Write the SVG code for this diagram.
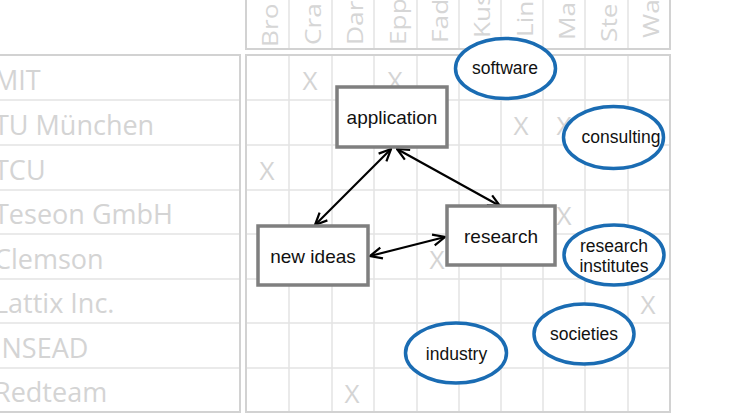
<svg xmlns="http://www.w3.org/2000/svg" width="748" height="413" viewBox="0 0 748 413">
<defs>
<style>
.bg{fill:#fff}
.outer{fill:none;stroke:#d2d2d2;stroke-width:2}
.inner{stroke:#e4e4e4;stroke-width:1.5;fill:none}
.lbl{font-family:"Open Sans","DejaVu Sans",sans-serif;font-size:27px;fill:#d4d4d4}
.hdr{font-family:"Open Sans","DejaVu Sans",sans-serif;font-size:21px;fill:#d6d6d6}
.x{font-family:"Open Sans","Liberation Sans",sans-serif;font-size:26px;fill:#d4d4d4;text-anchor:middle}
.box{fill:#fff;stroke:#7f7f7f;stroke-width:3.5}
.ell{fill:#fff;stroke:#1a6cb3;stroke-width:3.5}
.bt{font-family:"Liberation Sans",Arial,sans-serif;font-size:19px;fill:#111;text-anchor:middle}
.et{font-family:"Liberation Sans",Arial,sans-serif;font-size:17.5px;fill:#111;text-anchor:middle}
.conn{stroke:#000;stroke-width:2.2;fill:none;marker-start:url(#ah);marker-end:url(#ah)}
</style>
<marker id="ah" viewBox="0 0 14 14" refX="13" refY="7" markerWidth="14" markerHeight="14" markerUnits="userSpaceOnUse" orient="auto-start-reverse">
<path d="M1,1.5 L13,7 L1,12.5" fill="none" stroke="#000" stroke-width="2.2"/>
</marker>
</defs>
<rect class="bg" x="0" y="0" width="748" height="413"/>

<g id="left-table">
<rect class="outer" x="-2" y="55" width="242" height="357"/>
<path class="inner" d="M0,100H239M0,145H239M0,190H239M0,234H239M0,279H239M0,323H239M0,368H239"/>
<text class="lbl" x="-6" y="90">MIT</text>
<text class="lbl" x="-6" y="135">TU München</text>
<text class="lbl" x="-6" y="180">TCU</text>
<text class="lbl" x="-6" y="224">Teseon GmbH</text>
<text class="lbl" x="-6" y="269">Clemson</text>
<text class="lbl" x="-6" y="313">Lattix Inc.</text>
<text class="lbl" x="-6" y="358">INSEAD</text>
<text class="lbl" x="-6" y="402">Redteam</text>
</g>

<g id="header">
<rect class="outer" x="246" y="-4" width="424" height="53"/>
<path class="inner" d="M289,0V48M332,0V48M374,0V48M417,0V48M459,0V48M501,0V48M543,0V48M585,0V48M628,0V48"/>
<text class="hdr" transform="translate(278,47) rotate(-90) scale(1.25,1)">Bro</text>
<text class="hdr" transform="translate(321,45) rotate(-90) scale(1.25,1)">Cra</text>
<text class="hdr" transform="translate(363,45) rotate(-90) scale(1.25,1)">Dar</text>
<text class="hdr" transform="translate(406,45) rotate(-90) scale(1.25,1)">Epp</text>
<text class="hdr" transform="translate(448,43) rotate(-90) scale(1.25,1)">Fad</text>
<text class="hdr" transform="translate(490,38) rotate(-90) scale(1.25,1)">Kus</text>
<text class="hdr" transform="translate(533,37) rotate(-90) scale(1.25,1)">Lind</text>
<text class="hdr" transform="translate(575,40) rotate(-90) scale(1.25,1)">Ma</text>
<text class="hdr" transform="translate(617,42) rotate(-90) scale(1.25,1)">Ste</text>
<text class="hdr" transform="translate(659,38) rotate(-90) scale(1.25,1)">Wa</text>
</g>

<g id="grid">
<rect class="outer" x="246" y="55" width="424" height="357"/>
<path class="inner" d="M289,56V411M332,56V411M374,56V411M417,56V411M459,56V411M501,56V411M543,56V411M585,56V411M628,56V411"/>
<path class="inner" d="M247,100H669M247,145H669M247,190H669M247,234H669M247,279H669M247,323H669M247,368H669"/>
<text class="x" x="310" y="90">X</text>
<text class="x" x="395" y="90">X</text>
<text class="x" x="521" y="135">X</text>
<text class="x" x="564" y="135">X</text>
<text class="x" x="267" y="180">X</text>
<text class="x" x="564" y="225">X</text>
<text class="x" x="437" y="269">X</text>
<text class="x" x="648" y="314">X</text>
<text class="x" x="352" y="403">X</text>
</g>

<g id="connectors">
<line class="conn" x1="391" y1="149" x2="315" y2="225"/>
<line class="conn" x1="397" y1="149" x2="500" y2="206"/>
<line class="conn" x1="370" y1="256" x2="445" y2="237"/>
</g>

<g id="node-application">
<rect class="box" x="337" y="87" width="110" height="60"/>
<text class="bt" x="392" y="124">application</text>
</g>
<g id="node-research">
<rect class="box" x="447" y="206" width="108" height="59"/>
<text class="bt" x="501" y="243">research</text>
</g>
<g id="node-newideas">
<rect class="box" x="258" y="226" width="110" height="59"/>
<text class="bt" x="313" y="263">new ideas</text>
</g>
<g id="node-software">
<ellipse class="ell" cx="505.5" cy="68.5" rx="50" ry="30"/>
<text class="et" x="505" y="74">software</text>
</g>
<g id="node-consulting">
<ellipse class="ell" cx="613.5" cy="137.5" rx="50" ry="31"/>
<text class="et" x="621" y="143">consulting</text>
</g>
<g id="node-research-institutes">
<ellipse class="ell" cx="614" cy="255" rx="50" ry="30"/>
<text class="et" x="614" y="251.5">research</text>
<text class="et" x="614" y="271.5">institutes</text>
</g>
<g id="node-industry">
<ellipse class="ell" cx="456" cy="353" rx="50.5" ry="30"/>
<text class="et" x="456.5" y="360">industry</text>
</g>
<g id="node-societies">
<ellipse class="ell" cx="584" cy="334" rx="50" ry="30"/>
<text class="et" x="584" y="340">societies</text>
</g>
</svg>
